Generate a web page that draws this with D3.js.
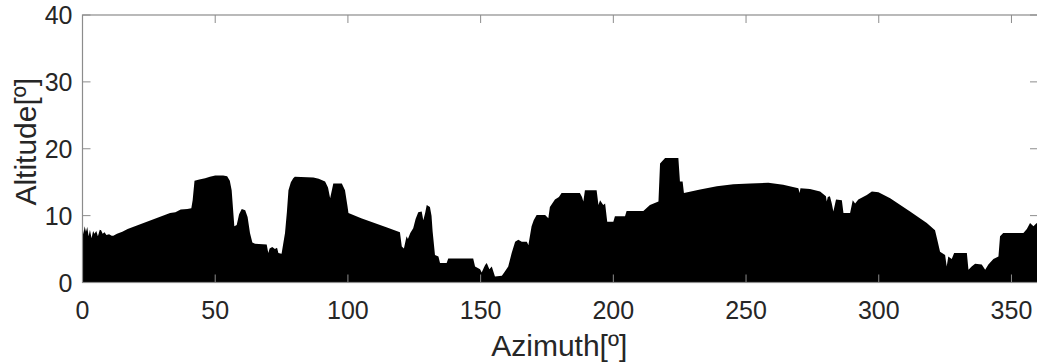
<!DOCTYPE html>
<html>
<head>
<meta charset="utf-8">
<script src="https://cdn.jsdelivr.net/npm/d3@7"></script>
<style>
  body { margin: 0; background: #fff; }
  text { font-family: Arial, "Liberation Sans", sans-serif; fill: #262626; }
</style>
</head>
<body>
<div id="chart"></div>
<script>
// horizon profile
var azimuth = [0, 0.4, 0.8, 1.3, 1.8, 2.3, 2.8, 3.4, 4.0, 4.5, 5.2, 5.8, 6.5, 7.0, 7.6, 8.3, 9.0, 10.0, 11.0, 11.6,
  13, 15, 17, 19, 21, 23, 25, 27, 29, 31, 33, 35, 37, 39.5, 41.0, 41.5, 42.2, 44, 46.2, 48, 50, 53, 54.5, 55.5, 56.2,
  57.2, 58.1, 59, 60, 61.3, 62.2, 63.1, 64, 65, 69.4, 70, 70.5, 71.5, 72.5, 73.3, 73.8, 75, 76.3, 77.0, 77.6, 78.5,
  79.4, 80, 87, 89, 91.4, 92.5, 93.3, 94.5, 97.7, 98.9, 99.8, 100.2, 105, 110, 115, 119.6, 120.3, 121.1, 122.1, 122.6,
  123.5, 124.6, 125.5, 126.5, 127.8, 128.4, 129.1, 129.7, 130.9, 131.5, 131.9, 132.8, 134.1, 134.7, 137.2, 137.8,
  147.2, 147.9, 149.8, 150.4, 151.2, 151.7, 152.3, 153.3, 154.2, 155.4, 158, 159.2, 160.4, 161.7, 163, 164.2, 165.5,
  167.4, 168, 169.2, 170, 171.1, 174.3, 175.5, 176.1, 178, 179.5, 180.5, 187.4, 188.2, 188.7, 189.3, 193.7, 194.4,
  195, 196.2, 196.9, 197.7, 200, 200.6, 204.4, 205, 211.3, 213.8, 217, 217.6, 219.5, 224.5, 225.1, 226.1, 226.6,
  232.7, 239, 245.2, 251.5, 258.4, 264, 269.7, 270.2, 270.5, 274.1, 277.9, 280.1, 280.4, 280.8, 281.6, 282.3, 282.9,
  283.9, 286.1, 286.7, 289.2, 290.2, 291.1, 292.3, 295.5, 297.4, 299.9, 304.3, 311.8, 318.1, 321.2, 322.1, 323.1,
  325, 325.6, 326.2, 327.5, 328.4, 333.2, 333.8, 335, 336.3, 338.8, 340.1, 341.3, 343.2, 345.1, 345.7, 346.9, 354.5,
  355.8, 357, 358.3, 359.5, 360];
var altitude = [8.6, 7.2, 8.4, 7.6, 8.3, 6.9, 7.9, 6.6, 7.7, 7.3, 7.7, 6.9, 7.9, 7.8, 7.3, 7.5, 7.1, 7.2, 7.0, 7.0,
  7.3, 7.6, 8.0, 8.3, 8.6, 8.9, 9.2, 9.5, 9.8, 10.1, 10.4, 10.5, 10.9, 11.0, 11.1, 12.3, 15.2, 15.4, 15.6, 15.8, 16.0,
  16.0, 15.9, 15.2, 13.8, 8.4, 8.6, 10.2, 11.0, 10.8, 9.8, 7.4, 6.0, 5.8, 5.7, 4.4, 5.1, 5.3, 5.0, 5.2, 4.4, 4.3,
  7.4, 10.5, 13.8, 15.0, 15.6, 15.8, 15.7, 15.5, 15.1, 14.2, 12.6, 14.8, 14.8, 13.8, 11.5, 10.4, 9.6, 8.9, 8.2, 7.5,
  5.4, 5.1, 6.9, 6.5, 7.4, 8.1, 9.5, 10.5, 10.6, 9.3, 10.4, 11.6, 11.3, 10.0, 7.7, 4.1, 3.9, 2.9, 2.9, 3.6, 3.6,
  2.4, 2.0, 1.5, 2.2, 2.6, 2.9, 2.0, 2.4, 0.9, 1.0, 1.7, 2.4, 4.4, 6.1, 6.4, 6.1, 6.1, 5.6, 8.4, 9.3, 10.1, 10.1,
  9.6, 11.3, 12.4, 12.8, 13.4, 13.4, 12.8, 12.1, 13.8, 13.8, 11.6, 12.3, 11.6, 11.8, 9.1, 9.1, 9.9, 9.9, 10.7, 10.7,
  11.6, 12.1, 17.8, 18.6, 18.6, 15.1, 15.1, 13.4, 13.9, 14.4, 14.7, 14.8, 14.9, 14.6, 14.1, 13.4, 14.1, 14.0, 13.6,
  12.9, 12.1, 12.8, 12.9, 11.8, 10.6, 12.4, 12.3, 10.4, 10.4, 12.3, 11.8, 12.4, 13.1, 13.6, 13.5, 12.6, 10.6, 8.9,
  7.8, 6.3, 4.6, 4.1, 2.4, 3.9, 3.5, 4.4, 4.4, 1.9, 2.4, 2.8, 2.7, 1.9, 2.7, 3.5, 3.9, 6.9, 7.4, 7.4, 8.0, 8.9, 8.4,
  8.9, 8.6];
var xTicks = [0, 50, 100, 150, 200, 250, 300, 350];
var yTicks = [0, 10, 20, 30, 40];

var W = 1037, H = 363;
var margin = { top: 15, right: -1, bottom: 80.5, left: 82.5 },
  width = W - margin.left - margin.right,
  height = H - margin.top - margin.bottom;

var svg = d3.select("#chart").append("svg")
  .attr("width", W).attr("height", H);
var g = svg.append("g")
  .attr("transform", "translate(" + margin.left + "," + margin.top + ")");

var x = d3.scaleLinear().domain([0, 360]).range([0, width]);
var y = d3.scaleLinear().domain([0, 40]).range([height, 0]);

var pts = azimuth.map(function (a, i) { return [a, altitude[i]]; });

// filled horizon
g.append("path")
  .datum(pts)
  .attr("fill", "#000")
  .attr("d", d3.area()
    .x(function (d) { return x(d[0]); })
    .y0(y(0))
    .y1(function (d) { return y(d[1]); }));

var axisColor = "#8c8c8c", tl = 8;

// box
g.append("rect")
  .attr("x", 0).attr("y", 0)
  .attr("width", width).attr("height", height)
  .attr("fill", "none").attr("stroke", axisColor).attr("stroke-width", 1.2);

// inward ticks on all four sides
xTicks.forEach(function (t) {
  g.append("line").attr("x1", x(t)).attr("x2", x(t)).attr("y1", height).attr("y2", height - tl)
    .attr("stroke", axisColor);
  g.append("line").attr("x1", x(t)).attr("x2", x(t)).attr("y1", 0).attr("y2", tl)
    .attr("stroke", axisColor);
  g.append("text").attr("x", x(t)).attr("y", height + 36)
    .attr("text-anchor", "middle").style("font-size", "25px").text(t);
});
yTicks.forEach(function (t) {
  g.append("line").attr("x1", 0).attr("x2", tl).attr("y1", y(t)).attr("y2", y(t))
    .attr("stroke", axisColor);
  g.append("line").attr("x1", width).attr("x2", width - tl).attr("y1", y(t)).attr("y2", y(t))
    .attr("stroke", axisColor);
  g.append("text").attr("x", -10).attr("y", y(t) + 9)
    .attr("text-anchor", "end").style("font-size", "25px").text(t);
});

// axis labels
g.append("text")
  .attr("x", width / 2 - 1).attr("y", height + 73)
  .attr("text-anchor", "middle").style("font-size", "30px").text("Azimuth[º]");
g.append("text")
  .attr("transform", "translate(" + (-47) + "," + (height / 2 - 7) + ") rotate(-90)")
  .attr("text-anchor", "middle").style("font-size", "30px").text("Altitude[º]");
</script>
</body>
</html>
